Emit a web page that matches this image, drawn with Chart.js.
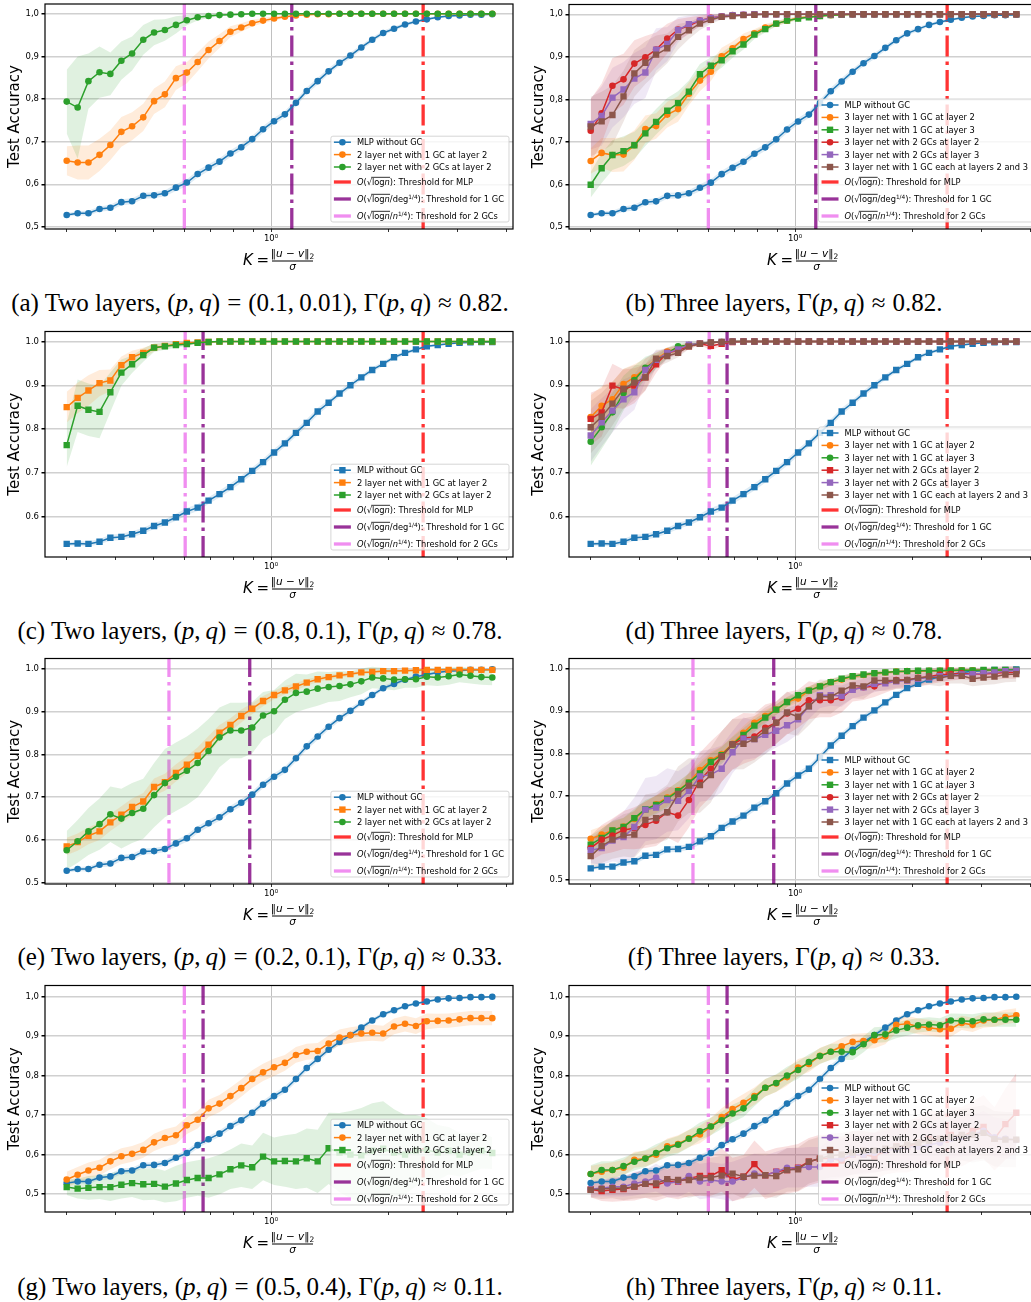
<!DOCTYPE html>
<html>
<head>
<meta charset="utf-8">
<script src="https://cdn.jsdelivr.net/npm/chart.js@4.4.1/dist/chart.umd.min.js"></script>
<style>
  html, body { margin: 0; padding: 0; background: #fff; overflow: hidden; }
  body { width: 1031px; height: 1302px; position: relative; }
  canvas { position: absolute; }
  .cap { position: absolute; width: 600px; text-align: center; white-space: nowrap;
         font-family: "Liberation Serif", "DejaVu Serif", serif; font-size: 25px; line-height: 26px; color: #000; }
  .cap .op { margin: 0 7px; }
</style>
</head>
<body>
<canvas id="pa"></canvas><canvas id="pb"></canvas>
<canvas id="pc"></canvas><canvas id="pd"></canvas>
<canvas id="pe"></canvas><canvas id="pf"></canvas>
<canvas id="pg"></canvas><canvas id="ph"></canvas>
<script>
'use strict';

// K = ||u-v||_2 / sigma, same grid in every panel
var kValues = [
  0.300, 0.320, 0.341, 0.364, 0.388, 0.414, 0.441, 0.471, 0.502, 0.535,
  0.571, 0.609, 0.649, 0.692, 0.738, 0.787, 0.839, 0.895, 0.954, 1.018,
  1.085, 1.158, 1.234, 1.316, 1.404, 1.497, 1.596, 1.702, 1.815, 1.936,
  2.064, 2.202, 2.348, 2.504, 2.670, 2.847, 3.036, 3.238, 3.453, 3.682
];
var xTickValues = [0.3, 0.4, 0.5, 0.6, 0.7, 0.8, 0.9, 1, 2, 3, 4];
var yTickValues = [0.5, 0.6, 0.7, 0.8, 0.9, 1.0];

// thresholds: [MLP, 1 GC, 2 GCs]
var thrA = [2.45, 1.13, 0.600];
var thrC = [2.45, 0.67, 0.603];
var thrE = [2.45, 0.882, 0.548];
var thrG = [2.45, 0.67, 0.600];

var labels2 = ['MLP without GC', '2 layer net with 1 GC at layer 2', '2 layer net with 2 GCs at layer 2'];
var labels3 = ['MLP without GC', '3 layer net with 1 GC at layer 2', '3 layer net with 1 GC at layer 3',
  '3 layer net with 2 GCs at layer 2', '3 layer net with 2 GCs at layer 3', '3 layer net with 1 GC each at layers 2 and 3'];
var thrNames = ['MLP', '1 GC', '2 GCs'];

var captions = [
  '(a) Two layers, (<i>p</i>,&thinsp;<i>q</i>)<span class="op">=</span>(0.1,&thinsp;0.01), Γ(<i>p</i>,&thinsp;<i>q</i>)<span class="op">≈</span>0.82.',
  '(b) Three layers, Γ(<i>p</i>,&thinsp;<i>q</i>)<span class="op">≈</span>0.82.',
  '(c) Two layers, (<i>p</i>,&thinsp;<i>q</i>)<span class="op">=</span>(0.8,&thinsp;0.1), Γ(<i>p</i>,&thinsp;<i>q</i>)<span class="op">≈</span>0.78.',
  '(d) Three layers, Γ(<i>p</i>,&thinsp;<i>q</i>)<span class="op">≈</span>0.78.',
  '(e) Two layers, (<i>p</i>,&thinsp;<i>q</i>)<span class="op">=</span>(0.2,&thinsp;0.1), Γ(<i>p</i>,&thinsp;<i>q</i>)<span class="op">≈</span>0.33.',
  '(f) Three layers, Γ(<i>p</i>,&thinsp;<i>q</i>)<span class="op">≈</span>0.33.',
  '(g) Two layers, (<i>p</i>,&thinsp;<i>q</i>)<span class="op">=</span>(0.5,&thinsp;0.4), Γ(<i>p</i>,&thinsp;<i>q</i>)<span class="op">≈</span>0.11.',
  '(h) Three layers, Γ(<i>p</i>,&thinsp;<i>q</i>)<span class="op">≈</span>0.11.'
];

// MLP without GC
var mlpA = [
  0.528, 0.532, 0.532, 0.542, 0.545, 0.558, 0.560, 0.573, 0.574, 0.579,
  0.592, 0.604, 0.624, 0.639, 0.653, 0.672, 0.687, 0.706, 0.729, 0.748,
  0.764, 0.791, 0.819, 0.842, 0.865, 0.885, 0.902, 0.921, 0.939, 0.955,
  0.965, 0.975, 0.982, 0.987, 0.992, 0.995, 0.996, 0.998, 0.998, 0.999
];
var mlpC = [
  0.537, 0.538, 0.537, 0.542, 0.551, 0.553, 0.559, 0.567, 0.578, 0.586,
  0.598, 0.611, 0.620, 0.636, 0.651, 0.667, 0.685, 0.704, 0.724, 0.746,
  0.767, 0.791, 0.814, 0.840, 0.860, 0.881, 0.900, 0.918, 0.935, 0.949,
  0.964, 0.974, 0.982, 0.989, 0.992, 0.995, 0.997, 0.998, 0.999, 0.999
];
var mlpStd = [
  0.004, 0.005, 0.006, 0.006, 0.007, 0.007, 0.007, 0.007, 0.007, 0.007,
  0.008, 0.008, 0.008, 0.008, 0.008, 0.008, 0.008, 0.008, 0.008, 0.008,
  0.008, 0.008, 0.008, 0.008, 0.007, 0.007, 0.007, 0.006, 0.006, 0.005,
  0.005, 0.004, 0.004, 0.003, 0.003, 0.002, 0.002, 0.002, 0.001, 0.001
];

// (a) two layers, p=0.1 q=0.01
var accA1 = [
  0.655, 0.651, 0.651, 0.669, 0.692, 0.723, 0.736, 0.757, 0.795, 0.811,
  0.849, 0.862, 0.887, 0.915, 0.936, 0.958, 0.968, 0.978, 0.984, 0.989,
  0.993, 0.996, 0.998, 0.999, 0.999, 1, 1, 1, 1, 1,
  1, 1, 1, 1, 1, 1, 1, 1, 1, 1
];
var accA1Std = [
  0.034, 0.040, 0.040, 0.038, 0.035, 0.035, 0.033, 0.032, 0.030, 0.030,
  0.028, 0.025, 0.022, 0.020, 0.016, 0.013, 0.010, 0.008, 0.006, 0.005,
  0.004, 0.003, 0.002, 0.001, 0.001, 0, 0, 0, 0, 0,
  0, 0, 0, 0, 0, 0, 0, 0, 0, 0
];
var accA2 = [
  0.794, 0.780, 0.842, 0.863, 0.859, 0.890, 0.907, 0.939, 0.956, 0.962,
  0.974, 0.985, 0.992, 0.995, 0.997, 0.998, 0.999, 1, 1, 1,
  1, 1, 1, 1, 1, 1, 1, 1, 1, 1,
  1, 1, 1, 1, 1, 1, 1, 1, 1, 1
];
var accA2Std = [
  0.075, 0.120, 0.065, 0.060, 0.050, 0.045, 0.040, 0.035, 0.030, 0.025,
  0.020, 0.012, 0.008, 0.005, 0.003, 0.002, 0.001, 0, 0, 0,
  0, 0, 0, 0, 0, 0, 0, 0, 0, 0,
  0, 0, 0, 0, 0, 0, 0, 0, 0, 0
];

// (b) three layers, p=0.1 q=0.01
var accB1 = [
  0.655, 0.674, 0.669, 0.670, 0.692, 0.730, 0.737, 0.764, 0.777, 0.813,
  0.844, 0.865, 0.901, 0.920, 0.942, 0.955, 0.969, 0.978, 0.985, 0.991,
  0.994, 0.996, 0.998, 0.999, 1, 1, 1, 1, 1, 1,
  1, 1, 1, 1, 1, 1, 1, 1, 1, 1
];
var accB1Std = [
  0.030, 0.035, 0.040, 0.040, 0.035, 0.032, 0.030, 0.030, 0.030, 0.027,
  0.025, 0.022, 0.020, 0.016, 0.013, 0.010, 0.008, 0.006, 0.005, 0.004,
  0.003, 0.002, 0.001, 0.001, 0, 0, 0, 0, 0, 0,
  0, 0, 0, 0, 0, 0, 0, 0, 0, 0
];
var accB2 = [
  0.599, 0.638, 0.669, 0.678, 0.692, 0.720, 0.747, 0.773, 0.791, 0.818,
  0.859, 0.879, 0.892, 0.913, 0.929, 0.952, 0.965, 0.978, 0.985, 0.990,
  0.993, 0.996, 0.998, 0.999, 1, 1, 1, 1, 1, 1,
  1, 1, 1, 1, 1, 1, 1, 1, 1, 1
];
var accB2Std = [
  0.030, 0.035, 0.035, 0.035, 0.032, 0.030, 0.030, 0.030, 0.028, 0.026,
  0.024, 0.020, 0.018, 0.015, 0.012, 0.010, 0.008, 0.006, 0.005, 0.004,
  0.003, 0.002, 0.001, 0.001, 0, 0, 0, 0, 0, 0,
  0, 0, 0, 0, 0, 0, 0, 0, 0, 0
];
var accB3 = [
  0.726, 0.767, 0.832, 0.847, 0.884, 0.899, 0.917, 0.943, 0.964, 0.973,
  0.985, 0.992, 0.995, 0.998, 0.999, 1, 1, 1, 1, 1,
  1, 1, 1, 1, 1, 1, 1, 1, 1, 1,
  1, 1, 1, 1, 1, 1, 1, 1, 1, 1
];
var accB3Std = [
  0.075, 0.070, 0.065, 0.060, 0.055, 0.050, 0.040, 0.035, 0.025, 0.020,
  0.012, 0.008, 0.005, 0.003, 0.001, 0, 0, 0, 0, 0,
  0, 0, 0, 0, 0, 0, 0, 0, 0, 0,
  0, 0, 0, 0, 0, 0, 0, 0, 0, 0
];
var accB4 = [
  0.742, 0.761, 0.804, 0.823, 0.849, 0.863, 0.917, 0.930, 0.963, 0.977,
  0.985, 0.991, 0.995, 0.998, 0.999, 1, 1, 1, 1, 1,
  1, 1, 1, 1, 1, 1, 1, 1, 1, 1,
  1, 1, 1, 1, 1, 1, 1, 1, 1, 1
];
var accB4Std = [
  0.060, 0.070, 0.070, 0.065, 0.060, 0.060, 0.050, 0.040, 0.030, 0.020,
  0.015, 0.010, 0.006, 0.003, 0.001, 0, 0, 0, 0, 0,
  0, 0, 0, 0, 0, 0, 0, 0, 0, 0,
  0, 0, 0, 0, 0, 0, 0, 0, 0, 0
];
var accB5 = [
  0.736, 0.748, 0.763, 0.807, 0.861, 0.886, 0.905, 0.920, 0.947, 0.962,
  0.978, 0.987, 0.994, 0.996, 0.998, 0.999, 1, 1, 1, 1,
  1, 1, 1, 1, 1, 1, 1, 1, 1, 1,
  1, 1, 1, 1, 1, 1, 1, 1, 1, 1
];
var accB5Std = [
  0.070, 0.070, 0.070, 0.060, 0.055, 0.050, 0.045, 0.035, 0.030, 0.020,
  0.015, 0.010, 0.006, 0.003, 0.002, 0.001, 0, 0, 0, 0,
  0, 0, 0, 0, 0, 0, 0, 0, 0, 0,
  0, 0, 0, 0, 0, 0, 0, 0, 0, 0
];

// (c) two layers, p=0.8 q=0.1
var accC1 = [
  0.850, 0.871, 0.888, 0.905, 0.911, 0.946, 0.964, 0.974, 0.986, 0.990,
  0.994, 0.997, 0.998, 0.999, 1, 1, 1, 1, 1, 1,
  1, 1, 1, 1, 1, 1, 1, 1, 1, 1,
  1, 1, 1, 1, 1, 1, 1, 1, 1, 1
];
var accC1Std = [
  0.035, 0.035, 0.035, 0.030, 0.025, 0.020, 0.015, 0.012, 0.008, 0.006,
  0.004, 0.003, 0.002, 0.001, 0, 0, 0, 0, 0, 0,
  0, 0, 0, 0, 0, 0, 0, 0, 0, 0,
  0, 0, 0, 0, 0, 0, 0, 0, 0, 0
];
var accC2 = [
  0.763, 0.853, 0.844, 0.839, 0.884, 0.929, 0.948, 0.969, 0.986, 0.989,
  0.992, 0.994, 0.997, 0.999, 1, 1, 1, 1, 1, 1,
  1, 1, 1, 1, 1, 1, 1, 1, 1, 1,
  1, 1, 1, 1, 1, 1, 1, 1, 1, 1
];
var accC2Std = [
  0.050, 0.060, 0.060, 0.060, 0.045, 0.030, 0.020, 0.015, 0.010, 0.008,
  0.006, 0.004, 0.002, 0.001, 0, 0, 0, 0, 0, 0,
  0, 0, 0, 0, 0, 0, 0, 0, 0, 0,
  0, 0, 0, 0, 0, 0, 0, 0, 0, 0
];

// (d) three layers, p=0.8 q=0.1
var accD1 = [
  0.827, 0.853, 0.868, 0.903, 0.918, 0.939, 0.959, 0.977, 0.984, 0.992,
  0.995, 0.998, 0.999, 1, 1, 1, 1, 1, 1, 1,
  1, 1, 1, 1, 1, 1, 1, 1, 1, 1,
  1, 1, 1, 1, 1, 1, 1, 1, 1, 1
];
var accD1Std = [
  0.050, 0.045, 0.040, 0.035, 0.030, 0.022, 0.016, 0.010, 0.008, 0.005,
  0.003, 0.002, 0.001, 0, 0, 0, 0, 0, 0, 0,
  0, 0, 0, 0, 0, 0, 0, 0, 0, 0,
  0, 0, 0, 0, 0, 0, 0, 0, 0, 0
];
var accD2 = [
  0.771, 0.804, 0.838, 0.882, 0.912, 0.940, 0.956, 0.973, 0.989, 0.992,
  0.995, 0.998, 0.999, 1, 1, 1, 1, 1, 1, 1,
  1, 1, 1, 1, 1, 1, 1, 1, 1, 1,
  1, 1, 1, 1, 1, 1, 1, 1, 1, 1
];
var accD2Std = [
  0.055, 0.050, 0.045, 0.040, 0.032, 0.025, 0.018, 0.012, 0.008, 0.005,
  0.003, 0.002, 0.001, 0, 0, 0, 0, 0, 0, 0,
  0, 0, 0, 0, 0, 0, 0, 0, 0, 0,
  0, 0, 0, 0, 0, 0, 0, 0, 0, 0
];
var accD3 = [
  0.823, 0.838, 0.899, 0.891, 0.899, 0.918, 0.948, 0.974, 0.980, 0.989,
  0.995, 0.990, 0.995, 0.999, 1, 1, 1, 1, 1, 1,
  1, 1, 1, 1, 1, 1, 1, 1, 1, 1,
  1, 1, 1, 1, 1, 1, 1, 1, 1, 1
];
var accD3Std = [
  0.060, 0.055, 0.050, 0.045, 0.040, 0.030, 0.020, 0.012, 0.010, 0.006,
  0.003, 0.010, 0.005, 0.001, 0, 0, 0, 0, 0, 0,
  0, 0, 0, 0, 0, 0, 0, 0, 0, 0,
  0, 0, 0, 0, 0, 0, 0, 0, 0, 0
];
var accD4 = [
  0.785, 0.815, 0.842, 0.868, 0.884, 0.935, 0.958, 0.974, 0.982, 0.993,
  0.995, 0.998, 0.999, 1, 1, 1, 1, 1, 1, 1,
  1, 1, 1, 1, 1, 1, 1, 1, 1, 1,
  1, 1, 1, 1, 1, 1, 1, 1, 1, 1
];
var accD4Std = [
  0.060, 0.055, 0.050, 0.045, 0.040, 0.027, 0.020, 0.012, 0.010, 0.006,
  0.003, 0.002, 0.001, 0, 0, 0, 0, 0, 0, 0,
  0, 0, 0, 0, 0, 0, 0, 0, 0, 0,
  0, 0, 0, 0, 0, 0, 0, 0, 0, 0
];
var accD5 = [
  0.804, 0.828, 0.858, 0.892, 0.906, 0.918, 0.961, 0.967, 0.974, 0.989,
  0.995, 0.998, 0.999, 1, 1, 1, 1, 1, 1, 1,
  1, 1, 1, 1, 1, 1, 1, 1, 1, 1,
  1, 1, 1, 1, 1, 1, 1, 1, 1, 1
];
var accD5Std = [
  0.060, 0.055, 0.050, 0.045, 0.040, 0.030, 0.020, 0.015, 0.010, 0.006,
  0.003, 0.002, 0.001, 0, 0, 0, 0, 0, 0, 0,
  0, 0, 0, 0, 0, 0, 0, 0, 0, 0,
  0, 0, 0, 0, 0, 0, 0, 0, 0, 0
];

// (e) two layers, p=0.2 q=0.1
var accE1 = [
  0.585, 0.595, 0.610, 0.620, 0.641, 0.659, 0.677, 0.690, 0.724, 0.735,
  0.757, 0.776, 0.797, 0.823, 0.851, 0.869, 0.890, 0.907, 0.925, 0.939,
  0.950, 0.959, 0.968, 0.976, 0.981, 0.985, 0.988, 0.992, 0.993, 0.995,
  0.995, 0.996, 0.997, 0.998, 0.998, 0.998, 0.998, 0.998, 0.998, 0.998
];
var accE1Std = [
  0.020, 0.020, 0.020, 0.020, 0.020, 0.020, 0.020, 0.020, 0.020, 0.020,
  0.020, 0.020, 0.020, 0.020, 0.018, 0.016, 0.015, 0.013, 0.012, 0.010,
  0.010, 0.008, 0.008, 0.006, 0.006, 0.005, 0.005, 0.004, 0.004, 0.004,
  0.003, 0.003, 0.003, 0.003, 0.003, 0.003, 0.003, 0.002, 0.002, 0.002
];
var accE2 = [
  0.576, 0.597, 0.620, 0.637, 0.660, 0.650, 0.663, 0.673, 0.705, 0.733,
  0.748, 0.762, 0.780, 0.808, 0.840, 0.856, 0.856, 0.863, 0.891, 0.901,
  0.928, 0.944, 0.947, 0.954, 0.958, 0.960, 0.964, 0.971, 0.980, 0.978,
  0.975, 0.976, 0.976, 0.982, 0.980, 0.983, 0.987, 0.984, 0.981, 0.980
];
var accE2Std = [
  0.045, 0.050, 0.055, 0.060, 0.065, 0.070, 0.070, 0.070, 0.075, 0.080,
  0.080, 0.080, 0.080, 0.075, 0.070, 0.065, 0.065, 0.060, 0.055, 0.050,
  0.045, 0.045, 0.040, 0.040, 0.035, 0.035, 0.030, 0.030, 0.025, 0.025,
  0.025, 0.020, 0.020, 0.020, 0.020, 0.020, 0.018, 0.018, 0.018, 0.018
];

// (f) three layers, p=0.2 q=0.1
var accF1 = [
  0.598, 0.608, 0.618, 0.627, 0.645, 0.667, 0.680, 0.696, 0.713, 0.732,
  0.761, 0.784, 0.799, 0.823, 0.849, 0.873, 0.889, 0.904, 0.922, 0.930,
  0.949, 0.959, 0.969, 0.975, 0.983, 0.986, 0.990, 0.992, 0.994, 0.995,
  0.995, 0.996, 0.996, 0.996, 0.997, 0.997, 0.997, 0.997, 0.997, 0.997
];
var accF1Std = [
  0.020, 0.020, 0.020, 0.020, 0.020, 0.020, 0.020, 0.020, 0.020, 0.020,
  0.020, 0.020, 0.018, 0.018, 0.016, 0.015, 0.014, 0.012, 0.012, 0.010,
  0.010, 0.009, 0.008, 0.007, 0.006, 0.005, 0.005, 0.004, 0.004, 0.004,
  0.003, 0.003, 0.003, 0.003, 0.003, 0.003, 0.003, 0.003, 0.003, 0.003
];
var accF2 = [
  0.584, 0.600, 0.618, 0.626, 0.647, 0.668, 0.678, 0.693, 0.711, 0.731,
  0.753, 0.780, 0.796, 0.821, 0.844, 0.866, 0.885, 0.904, 0.922, 0.938,
  0.949, 0.959, 0.969, 0.977, 0.983, 0.987, 0.990, 0.992, 0.994, 0.995,
  0.996, 0.996, 0.996, 0.997, 0.997, 0.997, 0.998, 0.998, 0.998, 0.998
];
var accF2Std = [
  0.022, 0.022, 0.022, 0.022, 0.022, 0.022, 0.022, 0.022, 0.022, 0.022,
  0.022, 0.020, 0.020, 0.018, 0.016, 0.015, 0.014, 0.012, 0.012, 0.010,
  0.010, 0.009, 0.008, 0.007, 0.006, 0.005, 0.005, 0.004, 0.004, 0.004,
  0.003, 0.003, 0.003, 0.003, 0.003, 0.003, 0.003, 0.003, 0.003, 0.003
];
var accF3 = [
  0.576, 0.596, 0.606, 0.619, 0.623, 0.631, 0.641, 0.661, 0.653, 0.690,
  0.737, 0.764, 0.793, 0.822, 0.836, 0.840, 0.861, 0.873, 0.895, 0.906,
  0.926, 0.926, 0.926, 0.932, 0.953, 0.957, 0.959, 0.969, 0.974, 0.974,
  0.979, 0.982, 0.987, 0.988, 0.990, 0.988, 0.988, 0.990, 0.992, 0.992
];
var accF3Std = [
  0.030, 0.035, 0.040, 0.045, 0.050, 0.055, 0.060, 0.060, 0.065, 0.065,
  0.065, 0.065, 0.060, 0.060, 0.060, 0.055, 0.055, 0.050, 0.050, 0.045,
  0.045, 0.040, 0.040, 0.035, 0.030, 0.030, 0.025, 0.025, 0.020, 0.020,
  0.020, 0.018, 0.018, 0.015, 0.015, 0.015, 0.015, 0.015, 0.015, 0.015
];
var accF4 = [
  0.571, 0.576, 0.594, 0.602, 0.626, 0.667, 0.672, 0.690, 0.688, 0.711,
  0.746, 0.750, 0.764, 0.803, 0.835, 0.834, 0.844, 0.854, 0.867, 0.881,
  0.912, 0.938, 0.938, 0.936, 0.951, 0.957, 0.965, 0.966, 0.971, 0.973,
  0.977, 0.980, 0.983, 0.984, 0.987, 0.988, 0.990, 0.992, 0.995, 0.996
];
var accF4Std = [
  0.030, 0.040, 0.050, 0.060, 0.070, 0.075, 0.075, 0.075, 0.070, 0.065,
  0.060, 0.060, 0.055, 0.050, 0.050, 0.045, 0.045, 0.040, 0.040, 0.035,
  0.030, 0.030, 0.025, 0.025, 0.020, 0.020, 0.020, 0.015, 0.015, 0.015,
  0.012, 0.012, 0.012, 0.010, 0.010, 0.010, 0.010, 0.010, 0.010, 0.010
];
var accF5 = [
  0.557, 0.581, 0.596, 0.606, 0.608, 0.643, 0.647, 0.661, 0.704, 0.724,
  0.725, 0.749, 0.793, 0.822, 0.823, 0.834, 0.854, 0.873, 0.897, 0.887,
  0.912, 0.935, 0.934, 0.949, 0.961, 0.959, 0.973, 0.973, 0.973, 0.974,
  0.979, 0.982, 0.979, 0.984, 0.984, 0.977, 0.980, 0.982, 0.987, 0.988
];
var accF5Std = [
  0.035, 0.040, 0.045, 0.050, 0.055, 0.060, 0.060, 0.065, 0.065, 0.065,
  0.065, 0.065, 0.060, 0.060, 0.060, 0.055, 0.055, 0.050, 0.050, 0.045,
  0.045, 0.040, 0.040, 0.035, 0.030, 0.030, 0.025, 0.025, 0.020, 0.020,
  0.020, 0.020, 0.020, 0.018, 0.018, 0.018, 0.018, 0.018, 0.018, 0.018
];

// (g) two layers, p=0.5 q=0.4
var accG1 = [
  0.537, 0.549, 0.560, 0.567, 0.583, 0.596, 0.602, 0.612, 0.631, 0.642,
  0.649, 0.674, 0.688, 0.717, 0.729, 0.748, 0.768, 0.791, 0.808, 0.821,
  0.832, 0.852, 0.860, 0.862, 0.881, 0.896, 0.902, 0.906, 0.908, 0.906,
  0.924, 0.931, 0.925, 0.937, 0.938, 0.939, 0.942, 0.945, 0.945, 0.945
];
var accG1Std = [
  0.020, 0.020, 0.020, 0.020, 0.020, 0.020, 0.020, 0.020, 0.022, 0.022,
  0.022, 0.022, 0.022, 0.022, 0.022, 0.022, 0.022, 0.022, 0.022, 0.022,
  0.020, 0.020, 0.020, 0.020, 0.020, 0.020, 0.020, 0.020, 0.020, 0.020,
  0.020, 0.020, 0.020, 0.020, 0.018, 0.018, 0.018, 0.018, 0.018, 0.018
];
var accG2 = [
  0.518, 0.514, 0.516, 0.518, 0.518, 0.524, 0.528, 0.525, 0.526, 0.519,
  0.527, 0.536, 0.541, 0.541, 0.550, 0.563, 0.573, 0.568, 0.595, 0.583,
  0.584, 0.583, 0.591, 0.583, 0.616, 0.605, 0.600, 0.598, 0.610, 0.615,
  0.605, 0.600, 0.610, 0.612, 0.605, 0.610, 0.600, 0.605, 0.610, 0.604
];
var accG2Std = [
  0.020, 0.025, 0.030, 0.030, 0.035, 0.035, 0.035, 0.040, 0.040, 0.040,
  0.045, 0.045, 0.045, 0.050, 0.050, 0.050, 0.055, 0.055, 0.060, 0.060,
  0.065, 0.070, 0.075, 0.080, 0.090, 0.100, 0.110, 0.120, 0.120, 0.120,
  0.110, 0.100, 0.090, 0.080, 0.070, 0.060, 0.055, 0.050, 0.045, 0.040
];

// (h) three layers, p=0.5 q=0.4
var accH1 = [
  0.551, 0.557, 0.561, 0.567, 0.587, 0.590, 0.600, 0.621, 0.627, 0.641,
  0.651, 0.671, 0.695, 0.715, 0.731, 0.748, 0.769, 0.780, 0.796, 0.820,
  0.829, 0.850, 0.860, 0.874, 0.885, 0.887, 0.889, 0.899, 0.928, 0.931,
  0.924, 0.921, 0.917, 0.918, 0.933, 0.928, 0.939, 0.941, 0.948, 0.952
];
var accH1Std = [
  0.020, 0.020, 0.020, 0.020, 0.020, 0.020, 0.020, 0.020, 0.022, 0.022,
  0.022, 0.022, 0.022, 0.022, 0.022, 0.022, 0.022, 0.022, 0.022, 0.022,
  0.020, 0.020, 0.020, 0.020, 0.020, 0.020, 0.020, 0.020, 0.020, 0.020,
  0.020, 0.020, 0.020, 0.020, 0.018, 0.018, 0.018, 0.018, 0.018, 0.018
];
var accH2 = [
  0.551, 0.561, 0.561, 0.571, 0.582, 0.590, 0.604, 0.616, 0.625, 0.640,
  0.659, 0.671, 0.687, 0.704, 0.717, 0.744, 0.769, 0.781, 0.800, 0.814,
  0.834, 0.849, 0.860, 0.860, 0.859, 0.879, 0.902, 0.904, 0.914, 0.921,
  0.927, 0.929, 0.927, 0.939, 0.938, 0.937, 0.942, 0.941, 0.941, 0.941
];
var accH2Std = [
  0.022, 0.022, 0.022, 0.022, 0.022, 0.022, 0.022, 0.022, 0.022, 0.022,
  0.022, 0.022, 0.022, 0.022, 0.022, 0.022, 0.022, 0.022, 0.022, 0.022,
  0.020, 0.020, 0.020, 0.020, 0.020, 0.020, 0.020, 0.020, 0.020, 0.020,
  0.018, 0.018, 0.018, 0.018, 0.018, 0.018, 0.018, 0.018, 0.018, 0.018
];
var accH3 = [
  0.512, 0.508, 0.511, 0.513, 0.519, 0.526, 0.523, 0.532, 0.532, 0.540,
  0.546, 0.546, 0.561, 0.537, 0.544, 0.576, 0.548, 0.557, 0.561, 0.567,
  0.582, 0.590, 0.590, 0.585, 0.600, 0.600, 0.595, 0.610, 0.620, 0.620,
  0.630, 0.640, 0.640, 0.650, 0.645, 0.660, 0.670, 0.640, 0.677, 0.706
];
var accH3Std = [
  0.020, 0.025, 0.030, 0.030, 0.035, 0.035, 0.040, 0.040, 0.045, 0.045,
  0.050, 0.050, 0.055, 0.055, 0.055, 0.060, 0.060, 0.060, 0.060, 0.060,
  0.060, 0.060, 0.060, 0.060, 0.060, 0.060, 0.060, 0.060, 0.065, 0.065,
  0.065, 0.070, 0.070, 0.070, 0.075, 0.075, 0.080, 0.080, 0.090, 0.100
];
var accH4 = [
  0.513, 0.515, 0.519, 0.519, 0.527, 0.532, 0.542, 0.527, 0.532, 0.546,
  0.532, 0.536, 0.532, 0.532, 0.542, 0.552, 0.548, 0.557, 0.567, 0.567,
  0.569, 0.569, 0.588, 0.590, 0.600, 0.600, 0.605, 0.610, 0.615, 0.620,
  0.620, 0.625, 0.630, 0.640, 0.645, 0.650, 0.660, 0.644, 0.640, 0.637
];
var accH4Std = [
  0.020, 0.020, 0.025, 0.025, 0.030, 0.030, 0.035, 0.035, 0.040, 0.040,
  0.045, 0.045, 0.045, 0.050, 0.050, 0.050, 0.050, 0.050, 0.050, 0.050,
  0.050, 0.050, 0.050, 0.050, 0.050, 0.050, 0.050, 0.050, 0.050, 0.050,
  0.050, 0.050, 0.050, 0.050, 0.050, 0.050, 0.050, 0.050, 0.050, 0.050
];
var accH5 = [
  0.511, 0.513, 0.515, 0.515, 0.519, 0.526, 0.527, 0.538, 0.536, 0.536,
  0.542, 0.542, 0.547, 0.552, 0.544, 0.547, 0.548, 0.546, 0.561, 0.563,
  0.582, 0.590, 0.598, 0.600, 0.605, 0.610, 0.610, 0.615, 0.620, 0.625,
  0.630, 0.635, 0.640, 0.645, 0.650, 0.650, 0.655, 0.640, 0.638, 0.638
];
var accH5Std = [
  0.020, 0.025, 0.025, 0.030, 0.030, 0.035, 0.035, 0.040, 0.040, 0.045,
  0.045, 0.050, 0.050, 0.050, 0.055, 0.055, 0.055, 0.055, 0.055, 0.055,
  0.055, 0.055, 0.055, 0.055, 0.055, 0.055, 0.055, 0.055, 0.060, 0.060,
  0.060, 0.060, 0.065, 0.065, 0.065, 0.070, 0.070, 0.070, 0.070, 0.070
];

// styling
var COLORS = ['#1f77b4', '#ff7f0e', '#2ca02c', '#d62728', '#9467bd', '#8c564b'];
var RGB = ['31,119,180', '255,127,14', '44,160,44', '214,39,40', '148,103,189', '140,86,75'];
var THR_COLORS = ['rgba(255,0,0,0.8)', 'rgba(128,0,128,0.8)', 'rgba(238,130,238,0.9)'];
var FONT = '"DejaVu Sans"';

var panels = [
  { id: 'pa', left: 0,   top: 2,   bottom: 229,  yMin: 0.495, yMax: 1.023, comma: true,  thr: thrA, labels: labels2,
    markers: ['o', 'o', 'o'], series: [mlpA, accA1, accA2], stds: [mlpStd, accA1Std, accA2Std] },
  { id: 'pb', left: 524, top: 2,   bottom: 229,  yMin: 0.495, yMax: 1.023, comma: true,  thr: thrA, labels: labels3,
    markers: ['o', 'o', 's', 'o', 's', 's'], series: [mlpA, accB1, accB2, accB3, accB4, accB5],
    stds: [mlpStd, accB1Std, accB2Std, accB3Std, accB4Std, accB5Std] },
  { id: 'pc', left: 0,   top: 329, bottom: 557,  yMin: 0.507, yMax: 1.023, comma: false, thr: thrC, labels: labels2,
    markers: ['s', 's', 's'], series: [mlpC, accC1, accC2], stds: [mlpStd, accC1Std, accC2Std] },
  { id: 'pd', left: 524, top: 329, bottom: 557,  yMin: 0.507, yMax: 1.023, comma: false, thr: thrC, labels: labels3,
    markers: ['s', 'o', 'o', 's', 's', 's'], series: [mlpC, accD1, accD2, accD3, accD4, accD5],
    stds: [mlpStd, accD1Std, accD2Std, accD3Std, accD4Std, accD5Std] },
  { id: 'pe', left: 0,   top: 656, bottom: 884,  yMin: 0.497, yMax: 1.0245, comma: false, thr: thrE, labels: labels2,
    markers: ['o', 's', 'o'], series: [mlpA, accE1, accE2], stds: [mlpStd, accE1Std, accE2Std] },
  { id: 'pf', left: 524, top: 656, bottom: 884,  yMin: 0.491, yMax: 1.025, comma: false, thr: thrE, labels: labels3,
    markers: ['s', 'o', 's', 'o', 's', 's'], series: [mlpA, accF1, accF2, accF3, accF4, accF5],
    stds: [mlpStd, accF1Std, accF2Std, accF3Std, accF4Std, accF5Std] },
  { id: 'pg', left: 0,   top: 983, bottom: 1212, yMin: 0.455, yMax: 1.0275, comma: true, thr: thrG, labels: labels2,
    markers: ['o', 'o', 's'], series: [mlpA, accG1, accG2], stds: [mlpStd, accG1Std, accG2Std] },
  { id: 'ph', left: 524, top: 983, bottom: 1212, yMin: 0.455, yMax: 1.0275, comma: true, thr: thrG, labels: labels3,
    markers: ['o', 'o', 'o', 's', 'o', 's'], series: [mlpA, accH1, accH2, accH3, accH4, accH5],
    stds: [mlpStd, accH1Std, accH2Std, accH3Std, accH4Std, accH5Std] }
];
var captionY = [303, 303, 631, 631, 957, 957, 1287, 1287];

function toPoints(values, std, sign) {
  return kValues.map(function (k, i) {
    return { x: k, y: values[i] + sign * (std ? std[i] : 0) };
  });
}

// O(sqrt(log n)...) legend text, returns its width
function drawThrLabel(ctx, x, y, j, fs, draw) {
  var reg = fs + 'px ' + FONT, ita = 'italic ' + reg, small = (fs * 0.7).toFixed(2) + 'px ' + FONT;
  var cx = x;
  function put(t, font, dy) {
    ctx.font = font;
    if (draw) ctx.fillText(t, cx, y + (dy || 0));
    cx += ctx.measureText(t).width;
  }
  put('O', ita); put('(', reg); put('√', reg);
  var s0 = cx;
  put('log', reg); put('n', ita);
  if (draw) ctx.fillRect(s0 - 0.8, y - fs * 0.98, cx - s0 + 1, 0.8);
  if (j === 1) { put('/deg', reg); put('1/4', small, -fs * 0.42); }
  if (j === 2) { put('/', reg); put('n', ita); put('1/4', small, -fs * 0.42); }
  put('): Threshold for ' + thrNames[j], reg);
  return cx - x;
}

function drawMarker(ctx, x, y, m, color) {
  ctx.fillStyle = color;
  ctx.beginPath();
  if (m === 's') ctx.rect(x - 3.2, y - 3.2, 6.4, 6.4);
  else ctx.arc(x, y, 3.3, 0, Math.PI * 2);
  ctx.fill();
}

function drawLegend(chart, p) {
  var ctx = chart.ctx, a = chart.chartArea, fs = 8.3;
  var rows = [];
  p.labels.forEach(function (l, i) { rows.push({ kind: 's', i: i }); });
  [0, 1, 2].forEach(function (j) { rows.push({ kind: 't', j: j }); });
  var offs = [], y = 6;
  rows.forEach(function (r, k) {
    if (k > 0) y += r.kind === 's' ? 12.4 : (rows[k - 1].kind === 's' ? 15 : 17);
    offs.push(y);
  });
  var h = y + 6;
  ctx.save();
  var tw = 0;
  rows.forEach(function (r) {
    ctx.font = fs + 'px ' + FONT;
    var w = r.kind === 's' ? ctx.measureText(p.labels[r.i]).width : drawThrLabel(ctx, 0, 0, r.j, fs, false);
    tw = Math.max(tw, w);
  });
  var w = 26 + tw + 5;
  var right = a.right - 4, bottom = a.bottom - 7, left = right - w, top = bottom - h;
  ctx.beginPath();
  ctx.roundRect(left, top, w, h, 2);
  ctx.fillStyle = 'rgba(255,255,255,0.8)';
  ctx.fill();
  ctx.strokeStyle = 'rgba(204,204,204,0.8)';
  ctx.lineWidth = 1;
  ctx.stroke();
  ctx.textBaseline = 'alphabetic';
  ctx.textAlign = 'left';
  rows.forEach(function (r, k) {
    var cy = top + offs[k];
    if (r.kind === 's') {
      ctx.strokeStyle = COLORS[r.i];
      ctx.lineWidth = 1.5;
      ctx.beginPath(); ctx.moveTo(left + 3, cy); ctx.lineTo(left + 20, cy); ctx.stroke();
      drawMarker(ctx, left + 11.5, cy, p.markers[r.i], COLORS[r.i]);
      ctx.fillStyle = '#000';
      ctx.font = fs + 'px ' + FONT;
      ctx.fillText(p.labels[r.i], left + 26, cy + fs * 0.36);
    } else {
      ctx.strokeStyle = THR_COLORS[r.j];
      ctx.lineWidth = 3.3;
      ctx.beginPath(); ctx.moveTo(left + 3, cy); ctx.lineTo(left + 20, cy); ctx.stroke();
      ctx.fillStyle = '#000';
      drawThrLabel(ctx, left + 26, cy + fs * 0.36, r.j, fs, true);
    }
  });
  ctx.restore();
}

function drawTitles(chart) {
  var ctx = chart.ctx, a = chart.chartArea, cx = (a.left + a.right) / 2, b = a.bottom;
  ctx.save();
  ctx.fillStyle = '#000';
  ctx.textBaseline = 'alphabetic';
  ctx.textAlign = 'left';
  // x label: K = ||u - v||_2 / sigma
  ctx.font = 'italic 15px ' + FONT;
  ctx.fillText('K', cx - 36, b + 36);
  ctx.font = '15px ' + FONT;
  ctx.fillText('=', cx - 22.5, b + 36);
  ctx.fillRect(cx - 7, b + 31.5, 41, 1);
  var pieces = [['‖', ''], ['u', 'italic '], [' − ', ''], ['v', 'italic '], ['‖', '']];
  var fs = 10.5, tot = 0;
  pieces.forEach(function (pc) { ctx.font = pc[1] + fs + 'px ' + FONT; tot += ctx.measureText(pc[0]).width; });
  ctx.font = '7.5px ' + FONT; tot += ctx.measureText('2').width;
  var nx = cx + 13.5 - tot / 2;
  pieces.forEach(function (pc) {
    ctx.font = pc[1] + fs + 'px ' + FONT;
    ctx.fillText(pc[0], nx, b + 28);
    nx += ctx.measureText(pc[0]).width;
  });
  ctx.font = '7.5px ' + FONT;
  ctx.fillText('2', nx, b + 30);
  ctx.font = 'italic ' + fs + 'px ' + FONT;
  ctx.textAlign = 'center';
  ctx.fillText('σ', cx + 13.5, b + 41);
  // y label
  ctx.translate(15, (a.top + a.bottom) / 2);
  ctx.rotate(-Math.PI / 2);
  ctx.font = '15px ' + FONT;
  ctx.textBaseline = 'middle';
  ctx.fillText('Test Accuracy', 0, 0);
  ctx.restore();
}

function makePanel(p) {
  var canvas = document.getElementById(p.id);
  var chartH = p.bottom - p.top;
  var W = 520, H = chartH + 2 + 48;
  canvas.width = W; canvas.height = H;
  canvas.style.width = W + 'px'; canvas.style.height = H + 'px';
  canvas.style.left = p.left + 'px'; canvas.style.top = (p.top - 2) + 'px';

  var datasets = [];
  p.series.forEach(function (vals, i) {
    datasets.push({ data: toPoints(vals, p.stds[i], 1), fill: '+1', backgroundColor: 'rgba(' + RGB[i] + ',0.15)',
      borderWidth: 0, pointRadius: 0, order: 100 });
    datasets.push({ data: toPoints(vals, p.stds[i], -1), fill: false, borderWidth: 0, pointRadius: 0, order: 100 });
  });
  p.series.forEach(function (vals, i) {
    var sq = p.markers[i] === 's';
    datasets.push({
      label: p.labels[i],
      data: toPoints(vals, null, 0),
      borderColor: COLORS[i],
      backgroundColor: COLORS[i],
      borderWidth: 1.5,
      pointStyle: sq ? 'rect' : 'circle',
      pointRadius: sq ? 4.5 : 3.3,
      pointBorderWidth: 0,
      fill: false,
      tension: 0,
      order: 50 - i
    });
  });

  var deco = {
    id: 'deco',
    beforeDatasetsDraw: function (chart) {
      var ctx = chart.ctx, a = chart.chartArea, xs = chart.scales.x;
      ctx.save();
      ctx.beginPath(); ctx.rect(a.left, a.top, a.right - a.left, a.bottom - a.top); ctx.clip();
      ctx.lineWidth = 3.3;
      ctx.setLineDash([21, 5, 3.5, 5]);
      p.thr.forEach(function (k, j) {
        var x = xs.getPixelForValue(k);
        ctx.strokeStyle = THR_COLORS[j];
        ctx.beginPath(); ctx.moveTo(x, a.bottom); ctx.lineTo(x, a.top); ctx.stroke();
      });
      ctx.restore();
    },
    afterDatasetsDraw: function (chart) {
      var ctx = chart.ctx, a = chart.chartArea;
      ctx.save();
      ctx.strokeStyle = '#000';
      ctx.lineWidth = 1.2;
      ctx.strokeRect(a.left, a.top, a.right - a.left, a.bottom - a.top);
      ctx.restore();
    },
    afterDraw: function (chart) {
      drawLegend(chart, p);
      drawTitles(chart);
    }
  };

  new Chart(canvas.getContext('2d'), {
    type: 'line',
    data: { datasets: datasets },
    options: {
      responsive: false,
      animation: false,
      devicePixelRatio: 1,
      layout: { padding: { left: 0, right: 7, top: 2, bottom: 28 } },
      plugins: { legend: { display: false }, tooltip: { enabled: false } },
      scales: {
        x: {
          type: 'logarithmic',
          min: 0.264,
          max: 4.16,
          afterBuildTicks: function (s) { s.ticks = xTickValues.map(function (v) { return { value: v }; }); },
          afterFit: function (s) { s.height = 20; s.paddingLeft = 0; s.paddingRight = 0; },
          border: { display: false },
          grid: {
            color: function (c) { return c.tick && c.tick.value === 1 ? '#b0b0b0' : 'rgba(0,0,0,0)'; },
            lineWidth: 0.8, tickColor: '#000', tickLength: 3
          },
          ticks: {
            autoSkip: false, maxRotation: 0, padding: 2, color: '#000',
            font: { family: 'DejaVu Sans', size: 8.5 },
            callback: function (v) { return v === 1 ? '10⁰' : ''; }
          }
        },
        y: {
          min: p.yMin,
          max: p.yMax,
          afterBuildTicks: function (s) {
            s.ticks = yTickValues.filter(function (v) { return v >= p.yMin; }).map(function (v) { return { value: v }; });
          },
          afterFit: function (s) { s.width = 45; s.paddingTop = 0; s.paddingBottom = 0; },
          border: { display: false },
          grid: { color: '#d0d0d0', lineWidth: 1.5, tickColor: '#000', tickLength: 3.5 },
          ticks: {
            padding: 2.5, color: '#000',
            font: { family: 'DejaVu Sans', size: 8.5 },
            callback: function (v) { var s = Number(v).toFixed(1); return p.comma ? s.replace('.', ',') : s; }
          }
        }
      }
    },
    plugins: [deco]
  });
}

panels.forEach(makePanel);

captions.forEach(function (html, i) {
  var d = document.createElement('div');
  d.className = 'cap';
  d.innerHTML = html;
  d.style.left = ((i % 2 === 0 ? 260 : 784) - 300) + 'px';
  d.style.top = (captionY[i] - 13) + 'px';
  document.body.appendChild(d);
});
</script>
</body>
</html>
